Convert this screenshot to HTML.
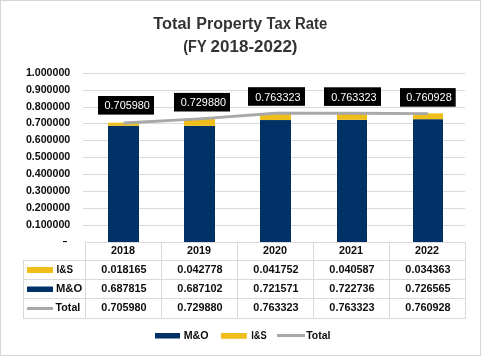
<!DOCTYPE html>
<html><head><meta charset="utf-8"><style>
html,body{margin:0;padding:0;background:#fff;overflow:hidden;}
svg{display:block;will-change:transform;font-family:"Liberation Sans",sans-serif;}
</style></head><body>
<svg width="481" height="356" viewBox="0 0 481 356">
<rect x="0.5" y="0.5" width="480" height="355" fill="#fff" stroke="#d6d6d6" stroke-width="1"/>
<text x="153.3" y="28.9" font-weight="bold" font-size="16.0" fill="#333333" textLength="37.8" lengthAdjust="spacingAndGlyphs">Total</text>
<text x="196.3" y="28.9" font-weight="bold" font-size="16.0" fill="#333333" textLength="65.9" lengthAdjust="spacingAndGlyphs">Property</text>
<text x="266.6" y="28.9" font-weight="bold" font-size="16.0" fill="#333333" textLength="24.2" lengthAdjust="spacingAndGlyphs">Tax</text>
<text x="295.0" y="28.9" font-weight="bold" font-size="16.0" fill="#333333" textLength="32.2" lengthAdjust="spacingAndGlyphs">Rate</text>
<text x="183.3" y="51.7" font-weight="bold" font-size="16.0" fill="#333333" textLength="23.3" lengthAdjust="spacingAndGlyphs">(FY</text>
<text x="210.6" y="51.7" font-weight="bold" font-size="16.0" fill="#333333" textLength="86.9" lengthAdjust="spacingAndGlyphs">2018-2022)</text>
<line x1="83" y1="225.5" x2="465" y2="225.5" stroke="#d9d9d9" stroke-width="1"/>
<text x="70.3" y="228.0" text-anchor="end" font-size="10" font-weight="bold" fill="#0d0d0d" textLength="44.4" lengthAdjust="spacingAndGlyphs">0.100000</text>
<line x1="83" y1="208.5" x2="465" y2="208.5" stroke="#d9d9d9" stroke-width="1"/>
<text x="70.3" y="211.0" text-anchor="end" font-size="10" font-weight="bold" fill="#0d0d0d" textLength="44.4" lengthAdjust="spacingAndGlyphs">0.200000</text>
<line x1="83" y1="191.5" x2="465" y2="191.5" stroke="#d9d9d9" stroke-width="1"/>
<text x="70.3" y="194.0" text-anchor="end" font-size="10" font-weight="bold" fill="#0d0d0d" textLength="44.4" lengthAdjust="spacingAndGlyphs">0.300000</text>
<line x1="83" y1="174.5" x2="465" y2="174.5" stroke="#d9d9d9" stroke-width="1"/>
<text x="70.3" y="177.0" text-anchor="end" font-size="10" font-weight="bold" fill="#0d0d0d" textLength="44.4" lengthAdjust="spacingAndGlyphs">0.400000</text>
<line x1="83" y1="157.5" x2="465" y2="157.5" stroke="#d9d9d9" stroke-width="1"/>
<text x="70.3" y="160.0" text-anchor="end" font-size="10" font-weight="bold" fill="#0d0d0d" textLength="44.4" lengthAdjust="spacingAndGlyphs">0.500000</text>
<line x1="83" y1="140.5" x2="465" y2="140.5" stroke="#d9d9d9" stroke-width="1"/>
<text x="70.3" y="143.0" text-anchor="end" font-size="10" font-weight="bold" fill="#0d0d0d" textLength="44.4" lengthAdjust="spacingAndGlyphs">0.600000</text>
<line x1="83" y1="123.5" x2="465" y2="123.5" stroke="#d9d9d9" stroke-width="1"/>
<text x="70.3" y="126.0" text-anchor="end" font-size="10" font-weight="bold" fill="#0d0d0d" textLength="44.4" lengthAdjust="spacingAndGlyphs">0.700000</text>
<line x1="83" y1="107.5" x2="465" y2="107.5" stroke="#d9d9d9" stroke-width="1"/>
<text x="70.3" y="110.0" text-anchor="end" font-size="10" font-weight="bold" fill="#0d0d0d" textLength="44.4" lengthAdjust="spacingAndGlyphs">0.800000</text>
<line x1="83" y1="90.5" x2="465" y2="90.5" stroke="#d9d9d9" stroke-width="1"/>
<text x="70.3" y="93.0" text-anchor="end" font-size="10" font-weight="bold" fill="#0d0d0d" textLength="44.4" lengthAdjust="spacingAndGlyphs">0.900000</text>
<line x1="83" y1="73.5" x2="465" y2="73.5" stroke="#d9d9d9" stroke-width="1"/>
<text x="70.3" y="76.0" text-anchor="end" font-size="10" font-weight="bold" fill="#0d0d0d" textLength="44.4" lengthAdjust="spacingAndGlyphs">1.000000</text>
<rect x="63" y="241" width="4" height="1.1" fill="#0d0d0d"/>
<rect x="108" y="125.75" width="31" height="116.25" fill="#003166"/>
<rect x="108" y="122.68" width="31" height="3.08" fill="#f0be1a"/>
<rect x="184" y="125.87" width="31" height="116.13" fill="#003166"/>
<rect x="184" y="118.63" width="31" height="7.24" fill="#f0be1a"/>
<rect x="260" y="120.04" width="31" height="121.96" fill="#003166"/>
<rect x="260" y="112.97" width="31" height="7.07" fill="#f0be1a"/>
<rect x="337" y="119.84" width="30" height="122.16" fill="#003166"/>
<rect x="337" y="112.97" width="30" height="6.87" fill="#f0be1a"/>
<rect x="413" y="119.19" width="30" height="122.81" fill="#003166"/>
<rect x="413" y="113.37" width="30" height="5.82" fill="#f0be1a"/>
<polyline points="123.5,122.98 199.5,118.93 275.5,113.27 352,113.27 428,113.67" fill="none" stroke="#a8a8a8" stroke-width="2.8" stroke-linejoin="round" stroke-linecap="butt"/>
<rect x="98" y="96.0" width="56" height="18.6" fill="#000"/>
<text x="127.2" y="108.6" text-anchor="middle" font-size="10.5" fill="#fff" textLength="45.4" lengthAdjust="spacingAndGlyphs">0.705980</text>
<rect x="174" y="92.9" width="56" height="18.6" fill="#000"/>
<text x="203.4" y="105.5" text-anchor="middle" font-size="10.5" fill="#fff" textLength="45.4" lengthAdjust="spacingAndGlyphs">0.729880</text>
<rect x="248" y="87.2" width="57" height="18.6" fill="#000"/>
<text x="277.9" y="100.8" text-anchor="middle" font-size="10.5" fill="#fff" textLength="45.4" lengthAdjust="spacingAndGlyphs">0.763323</text>
<rect x="324" y="87.3" width="57" height="18.6" fill="#000"/>
<text x="353.9" y="100.9" text-anchor="middle" font-size="10.5" fill="#fff" textLength="45.4" lengthAdjust="spacingAndGlyphs">0.763323</text>
<rect x="400" y="88.1" width="55.7" height="18.6" fill="#000"/>
<text x="429.0" y="100.7" text-anchor="middle" font-size="10.5" fill="#fff" textLength="45.4" lengthAdjust="spacingAndGlyphs">0.760928</text>
<line x1="85" y1="242.5" x2="465" y2="242.5" stroke="#d9d9d9"/>
<line x1="23" y1="260.5" x2="465" y2="260.5" stroke="#d9d9d9"/>
<line x1="23" y1="279.5" x2="465" y2="279.5" stroke="#d9d9d9"/>
<line x1="23" y1="298.5" x2="465" y2="298.5" stroke="#d9d9d9"/>
<line x1="23" y1="318.5" x2="465" y2="318.5" stroke="#d9d9d9"/>
<line x1="23.5" y1="260" x2="23.5" y2="319" stroke="#d9d9d9"/>
<line x1="85.5" y1="242" x2="85.5" y2="319" stroke="#d9d9d9"/>
<line x1="161.5" y1="242" x2="161.5" y2="319" stroke="#d9d9d9"/>
<line x1="237.5" y1="242" x2="237.5" y2="319" stroke="#d9d9d9"/>
<line x1="313.5" y1="242" x2="313.5" y2="319" stroke="#d9d9d9"/>
<line x1="389.5" y1="242" x2="389.5" y2="319" stroke="#d9d9d9"/>
<line x1="465.5" y1="242" x2="465.5" y2="319" stroke="#d9d9d9"/>
<text x="123" y="254" text-anchor="middle" font-size="10" font-weight="bold" fill="#0d0d0d" textLength="24" lengthAdjust="spacingAndGlyphs">2018</text>
<text x="124" y="272.8" text-anchor="middle" font-size="10.0" font-weight="bold" fill="#0d0d0d" textLength="45.3" lengthAdjust="spacingAndGlyphs">0.018165</text>
<text x="124" y="291.8" text-anchor="middle" font-size="10.0" font-weight="bold" fill="#0d0d0d" textLength="45.3" lengthAdjust="spacingAndGlyphs">0.687815</text>
<text x="124" y="310.8" text-anchor="middle" font-size="10.0" font-weight="bold" fill="#0d0d0d" textLength="45.3" lengthAdjust="spacingAndGlyphs">0.705980</text>
<text x="199" y="254" text-anchor="middle" font-size="10" font-weight="bold" fill="#0d0d0d" textLength="24" lengthAdjust="spacingAndGlyphs">2019</text>
<text x="200" y="272.8" text-anchor="middle" font-size="10.0" font-weight="bold" fill="#0d0d0d" textLength="45.3" lengthAdjust="spacingAndGlyphs">0.042778</text>
<text x="200" y="291.8" text-anchor="middle" font-size="10.0" font-weight="bold" fill="#0d0d0d" textLength="45.3" lengthAdjust="spacingAndGlyphs">0.687102</text>
<text x="200" y="310.8" text-anchor="middle" font-size="10.0" font-weight="bold" fill="#0d0d0d" textLength="45.3" lengthAdjust="spacingAndGlyphs">0.729880</text>
<text x="275" y="254" text-anchor="middle" font-size="10" font-weight="bold" fill="#0d0d0d" textLength="24" lengthAdjust="spacingAndGlyphs">2020</text>
<text x="276" y="272.8" text-anchor="middle" font-size="10.0" font-weight="bold" fill="#0d0d0d" textLength="45.3" lengthAdjust="spacingAndGlyphs">0.041752</text>
<text x="276" y="291.8" text-anchor="middle" font-size="10.0" font-weight="bold" fill="#0d0d0d" textLength="45.3" lengthAdjust="spacingAndGlyphs">0.721571</text>
<text x="276" y="310.8" text-anchor="middle" font-size="10.0" font-weight="bold" fill="#0d0d0d" textLength="45.3" lengthAdjust="spacingAndGlyphs">0.763323</text>
<text x="351" y="254" text-anchor="middle" font-size="10" font-weight="bold" fill="#0d0d0d" textLength="24" lengthAdjust="spacingAndGlyphs">2021</text>
<text x="352" y="272.8" text-anchor="middle" font-size="10.0" font-weight="bold" fill="#0d0d0d" textLength="45.3" lengthAdjust="spacingAndGlyphs">0.040587</text>
<text x="352" y="291.8" text-anchor="middle" font-size="10.0" font-weight="bold" fill="#0d0d0d" textLength="45.3" lengthAdjust="spacingAndGlyphs">0.722736</text>
<text x="352" y="310.8" text-anchor="middle" font-size="10.0" font-weight="bold" fill="#0d0d0d" textLength="45.3" lengthAdjust="spacingAndGlyphs">0.763323</text>
<text x="427" y="254" text-anchor="middle" font-size="10" font-weight="bold" fill="#0d0d0d" textLength="24" lengthAdjust="spacingAndGlyphs">2022</text>
<text x="428" y="272.8" text-anchor="middle" font-size="10.0" font-weight="bold" fill="#0d0d0d" textLength="45.3" lengthAdjust="spacingAndGlyphs">0.034363</text>
<text x="428" y="291.8" text-anchor="middle" font-size="10.0" font-weight="bold" fill="#0d0d0d" textLength="45.3" lengthAdjust="spacingAndGlyphs">0.726565</text>
<text x="428" y="310.8" text-anchor="middle" font-size="10.0" font-weight="bold" fill="#0d0d0d" textLength="45.3" lengthAdjust="spacingAndGlyphs">0.760928</text>
<rect x="27" y="267" width="26" height="6" fill="#f0be1a"/>
<text x="56.6" y="273.3" text-anchor="start" font-size="10.0" font-weight="bold" fill="#0d0d0d" textLength="16.4" lengthAdjust="spacingAndGlyphs">I&amp;S</text>
<rect x="27" y="286.5" width="26" height="5.5" fill="#003166"/>
<text x="56" y="292.3" text-anchor="start" font-size="10.0" font-weight="bold" fill="#0d0d0d" textLength="26.2" lengthAdjust="spacingAndGlyphs">M&amp;O</text>
<rect x="27" y="307" width="26" height="3" fill="#a8a8a8"/>
<text x="55.6" y="311" text-anchor="start" font-size="10.0" font-weight="bold" fill="#0d0d0d" textLength="24.7" lengthAdjust="spacingAndGlyphs">Total</text>
<rect x="155" y="333" width="25" height="5.5" fill="#003166"/>
<text x="183.7" y="338.5" text-anchor="start" font-size="10.0" font-weight="bold" fill="#0d0d0d" textLength="24.9" lengthAdjust="spacingAndGlyphs">M&amp;O</text>
<rect x="221" y="333" width="25.8" height="5.8" fill="#f0be1a"/>
<text x="251.2" y="338.5" text-anchor="start" font-size="10.0" font-weight="bold" fill="#0d0d0d" textLength="15.5" lengthAdjust="spacingAndGlyphs">I&amp;S</text>
<rect x="277" y="334" width="28" height="3" fill="#a8a8a8"/>
<text x="306.2" y="338.5" text-anchor="start" font-size="10.0" font-weight="bold" fill="#0d0d0d" textLength="24.3" lengthAdjust="spacingAndGlyphs">Total</text>
</svg></body></html>
